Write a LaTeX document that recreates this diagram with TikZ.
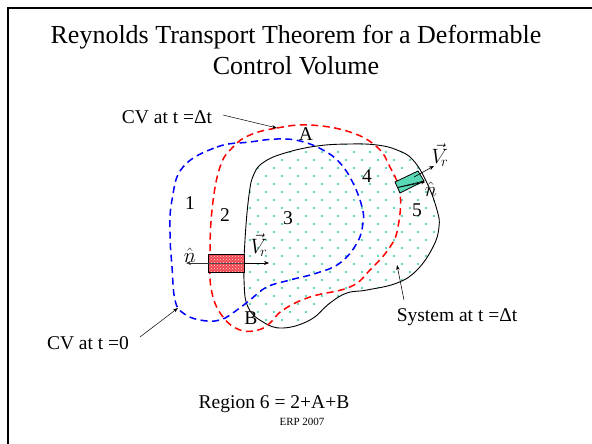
\documentclass[tikz,border=0pt]{standalone}
\usepackage{fontspec}
\setmainfont{Liberation Serif}
\usetikzlibrary{patterns,arrows.meta}
\definecolor{dotteal}{RGB}{40,205,170}
\definecolor{boxteal}{RGB}{90,215,180}
\definecolor{boxred}{RGB}{240,70,80}
\begin{document}
\begin{tikzpicture}[x=1pt,y=-1pt,
  lbl/.style={font=\fontsize{19.5}{23}\selectfont, inner sep=0pt},
  num/.style={font=\fontsize{19.5}{23}\selectfont, inner sep=0pt},
  vec/.style={font=\fontsize{20}{24}\selectfont, inner sep=0pt},
  pointer/.style={line width=0.5pt, -{Stealth[length=5pt,width=3.5pt]}},
  vecarrow/.style={line width=0.6pt, -{Stealth[length=5pt,width=4pt]}},
  cvline/.style={line width=1.5pt, dash pattern=on 7pt off 4.5pt},
  dot/.style={fill=dotteal}]
\useasboundingbox (0,0) rectangle (592,444);
\fill[white] (0,0) rectangle (592,444);
\draw[line width=1.6pt] (592,8) -- (8,8) -- (8,444);

\def\syspath{plot[smooth cycle, tension=0.7] coordinates {
 (249,195) (254,174) (264,162) (285,153) (317,146) (350,144) (377,145) (397,150) (413,160)
 (427,183) (437,210) (439,227) (433,247) (417,270) (397,283) (367,290) (347,293)
 (330,303) (310,320) (283,328) (263,322) (248,307) (244,280) (245,240)}}

% dotted system region
\begin{scope}
  \clip \syspath;
  \foreach \i in {0,...,14} {\foreach \j in {8,...,21} {
    \fill[dot] (10+16*\i+224,16*\j) circle (1.2pt);
    \fill[dot] (2+16*\i+224,16*\j+8) circle (1.2pt);
  }}
\end{scope}
\draw[line width=0.9pt] \syspath;

% blue control volume at t=0
\draw[cvline, blue] plot[smooth cycle, tension=0.7] coordinates {
 (183,167) (217,147) (250,142) (277,139) (300,141) (323,150) (340,163) (353,183)
 (362,207) (363,223) (357,243) (340,263) (317,273) (290,280) (267,287) (250,300)
 (237,310) (220,320) (200,320) (183,313) (175,300) (172,267) (170,233) (172,200)};

% red control volume at t=dt
\draw[cvline, red] plot[smooth cycle, tension=0.7] coordinates {
 (250,135) (277,128) (310,125) (350,132) (377,147) (390,167) (400,193) (398,227)
 (390,247) (370,270) (350,287) (310,297) (283,310) (270,323) (258,330) (240,330)
 (223,317) (212,293) (210,260) (212,210) (220,167) (233,147)};

% left element
\coordinate (lb1) at (208,254);
\coordinate (lb2) at (244,272);
\fill[boxred] (lb1) rectangle (lb2);
\fill[pattern=crosshatch dots, pattern color=white!85!red] (lb1) rectangle (lb2);
\draw[line width=0.9pt] (lb1) rectangle (lb2);
\coordinate (lbl) at (208,263);
\coordinate (lbr) at (244,263);
\coordinate (nl) at (186,263);
\coordinate (vl) at (269,263);
\draw[gray!60!black, line width=0.5pt] (lbl) -- (lbr);
\draw[vecarrow, gray!40!black] (lbl) -- (nl);
\draw[vecarrow] (lbr) -- (vl);
\node[vec] (nhatl) at (190,255) {$\hat{n}$};
\node[vec] (vrl) at (259,245) {$\vec{V}_{\!r}$};

% right element
\coordinate (rb1) at (395,182);
\coordinate (rb2) at (418,171);
\coordinate (rb3) at (424,181);
\coordinate (rb4) at (400,193);
\draw[fill=boxteal, line width=0.8pt] (rb1) -- (rb2) -- (rb3) -- (rb4) -- cycle;
\coordinate (rbm) at (397.5,187.5);
\draw[line width=0.6pt] (rbm) -- (rb3);
\coordinate (vrs) at (414,177);
\coordinate (vre) at (434,166);
\draw[vecarrow] (vrs) -- (vre);
\draw[-{Stealth[length=4pt,width=3pt]}, line width=0.6pt] (rbm) -- (425,182);
\node[vec] (vrr) at (440,155) {$\vec{V}_{\!r}$};
\node[vec] (nhatr) at (431,189) {$\hat{n}$};

% region labels
\node[num] (r1) at (190,203) {1};
\node[num] (r2) at (225,215) {2};
\node[num] (r3) at (288,218) {3};
\node[num] (r4) at (367,176) {4};
\node[num] (r5) at (417,210) {5};
\node[num] (rA) at (306,134) {A};
\node[num] (rB) at (251,318) {B};

% title
\node[font=\fontsize{26}{31}\selectfont, align=center, inner sep=0pt] (title) at (296,50)
  {Reynolds Transport Theorem for a Deformable\\Control Volume};

% callouts
\node[lbl] (cvdt) at (167,117) {CV at t =Δt};
\coordinate (cvdts) at (223,115);
\coordinate (cvdte) at (277,128);
\draw[pointer] (cvdts) -- (cvdte);

\node[lbl] (cv0) at (88,343) {CV at t =0};
\coordinate (cv0s) at (140,337);
\coordinate (cv0e) at (178,308);
\draw[pointer] (cv0s) -- (cv0e);

\node[lbl] (sys) at (457,317) {System at t =Δt};
\coordinate (syss) at (404,300);
\coordinate (syse) at (397,265);
\draw[pointer] (syss) -- (syse);

\node[lbl] (region) at (274,404) {Region 6 = 2+A+B};
\node[font=\fontsize{11}{13}\selectfont, inner sep=0pt] (erp) at (302,422) {ERP 2007};
\end{tikzpicture}
\end{document}
